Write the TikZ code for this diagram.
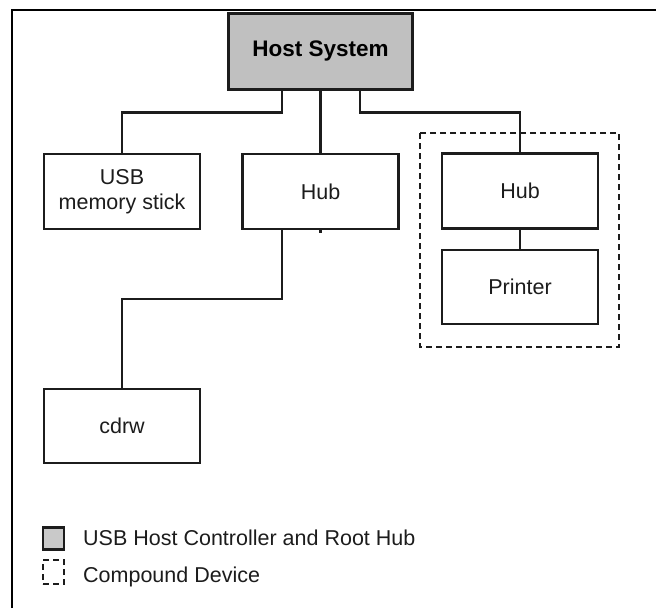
\documentclass[tikz,border=0pt]{standalone}
\usepackage{fontspec}
\setmainfont{Liberation Sans}
\definecolor{hostgray}{RGB}{192,192,192}
\definecolor{ink}{RGB}{28,28,28}
\tikzset{
  device/.style={draw=ink, line width=2.4pt, fill=white, minimum width=156pt,
    minimum height=75pt, inner sep=0pt, align=center, text=ink,
    font=\fontsize{21.5}{25}\selectfont},
  hostbox/.style={device, line width=3pt, fill=hostgray, minimum width=184pt,
    minimum height=76pt, text=black, font=\fontsize{22.5}{26}\selectfont\bfseries},
  wire/.style={draw=ink, line width=2.4pt},
  compound/.style={draw=ink, line width=2.2pt, dash pattern=on 6pt off 4pt},
  legendtext/.style={anchor=west, inner sep=0pt, text=ink,
    font=\fontsize{21.5}{25}\selectfont}
}
\begin{document}
\begin{tikzpicture}[x=1pt, y=-1pt]
  \useasboundingbox (0,0) rectangle (656,608);

  % page frame (top and left edges)
  \draw[line width=2.2pt, black] (12,608) -- (12,10) -- (656,10);

  % compound device outline
  \draw[compound] (420,133) rectangle (619,347);

  % devices
  \node[hostbox] (host) at (320.5,51) {Host System};
  \node[device] (usb) at (122,191.5) {USB\\memory stick};
  \node[device] (hub1) at (320.5,191.5) {Hub};
  \node[device] (hub2) at (520,191) {Hub};
  \node[device, minimum height=74pt] (printer) at (520,287) {Printer};
  \node[device, minimum height=74pt] (cdrw) at (122,426) {cdrw};

  % bus connections
  \draw[wire] ([xshift=-38.5pt]host.south) -- ++(0,22) -| (usb.north);
  \draw[wire] (host.south) -- (hub1.north);
  \draw[wire] ([xshift=39.5pt]host.south) -- ++(0,22) -| (hub2.north);
  \draw[wire] ([xshift=-38.5pt]hub1.south) -- ++(0,69) -| (cdrw.north);
  \draw[wire] (hub2.south) -- (printer.north);
  \draw[wire] (hub1.south) -- ++(0,3);

  % legend
  \node[draw=ink, line width=2.4pt, fill=hostgray!85!white, minimum width=21pt,
    minimum height=22pt, inner sep=0pt] (keyhost) at (53.5,538.5) {};
  \node[legendtext] (keyhosttext) at (83,538) {USB Host Controller and Root Hub};
  \node[compound, minimum width=21pt, minimum height=24pt, inner sep=0pt,
    dash pattern=on 6pt off 4pt] (keycomp) at (53.5,572) {};
  \node[legendtext] (keycomptext) at (83,577) {Compound Device};
\end{tikzpicture}
\end{document}
